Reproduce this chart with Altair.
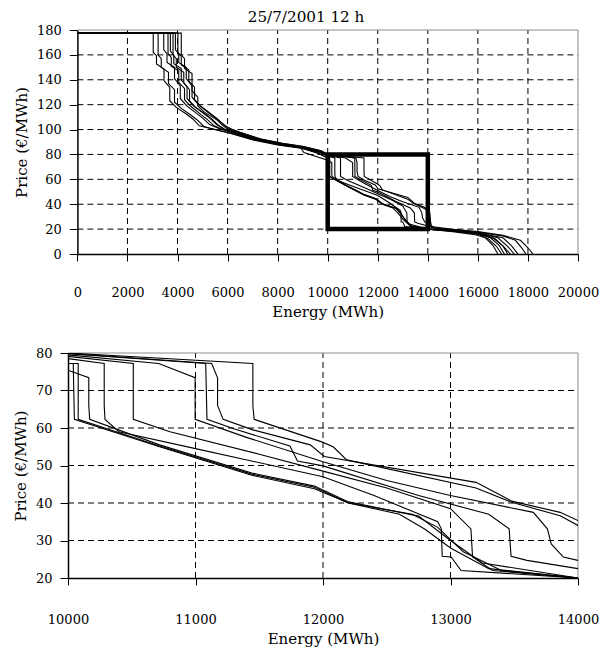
import altair as alt
import pandas as pd

title_text = "25/7/2001 12 h"
x_title = "Energy (MWh)"
y_title = "Price (€/MWh)"

top_x_ticks = [0, 2000, 4000, 6000, 8000, 10000, 12000, 14000, 16000, 18000, 20000]
top_y_ticks = [0, 20, 40, 60, 80, 100, 120, 140, 160, 180]
zoom_x_ticks = [10000, 11000, 12000, 13000, 14000]
zoom_y_ticks = [20, 30, 40, 50, 60, 70, 80]
box_energy = [10000, 14000]
box_price = [20, 80]

energy_1 = [0, 3030, 3030, 3160, 3160, 3460, 3460, 3690, 3690, 3950, 4350, 4610, 4870, 5500, 6050, 7000, 8000, 8900, 9600, 10000,
            10041, 10050, 10718, 11442, 11933, 12200, 12600, 12800, 13000, 13300, 14000, 15000, 16000, 16300, 16600, 16800]
price_1 = [177.5, 177.5, 162, 159.4, 152.7, 148.7, 139.3, 133.9, 123.2, 117.8, 112.5, 108.5, 103, 100, 97.5, 92, 88, 85.5, 81, 77.2,
           77.2, 62.3, 55, 47.4, 43.8, 40, 37, 33, 28, 22.5, 20, 18.5, 16, 13, 7, 0]

energy_2 = [0, 3225, 3225, 3350, 3350, 3640, 3640, 3880, 3880, 4150, 4540, 4800, 5050, 5600, 6100, 7050, 8050, 8950, 9650, 10000,
            10080, 10080, 10718, 11442, 11933, 12200, 12700, 12900, 13100, 13400, 14000, 15000, 16000, 16500, 16850, 17060]
price_2 = [177.5, 177.5, 160, 157, 150, 146, 137, 132, 122, 117, 111.5, 107.5, 102.5, 99.5, 97, 91.5, 87.5, 85, 81, 77.2,
           77.2, 62.3, 55.2, 47.7, 44.2, 40, 37, 33.5, 27, 22, 20, 18.3, 16.2, 13, 7, 0]

energy_3 = [0, 3450, 3450, 3580, 3580, 3880, 3880, 4110, 4110, 4370, 4760, 5020, 5280, 5700, 6150, 7100, 8000, 8900, 9050, 10000,
            10163, 10163, 10170, 10718, 11442, 11933, 12200, 12750, 13000, 13250, 14000, 15000, 15900, 16400, 16750, 16950]
price_3 = [177.5, 177.5, 164, 161, 154, 150, 141, 135, 125, 119, 113, 109, 104, 100.5, 98, 92.5, 88.5, 86, 81.5, 75.4,
           73.4, 66, 62.3, 55.5, 48, 44.5, 40.3, 36.5, 30, 24, 20, 18, 15.5, 12.5, 6, 0]

energy_4 = [0, 3620, 3620, 3750, 3750, 4050, 4050, 4280, 4280, 4540, 4940, 5200, 5460, 5800, 6200, 7100, 8050, 9000, 9700, 10000,
            10284, 10284, 10290, 10400, 11000, 12000, 12400, 12900, 12928, 12935, 13005, 13083, 14000, 15000, 16000, 16600, 17000, 17190]
price_4 = [177.5, 177.5, 161, 158, 151, 147, 138, 133, 124, 118.5, 112, 108, 103, 100, 97.5, 92, 88, 85, 81.5, 78.5,
           77.2, 66, 62.3, 59, 54.5, 47, 42, 35, 33.1, 25.8, 25.6, 22, 20, 18.7, 16.5, 13, 6.5, 0]

energy_5 = [0, 3715, 3715, 3850, 3850, 4150, 4150, 4380, 4380, 4640, 5040, 5300, 5560, 5850, 6250, 7150, 8100, 9000, 9700, 10000,
            10512, 10512, 10800, 11500, 12000, 12500, 13000, 13160, 13173, 13330, 14000, 15000, 16000, 16800, 17200, 17450]
price_5 = [177.5, 177.5, 163, 160, 153, 149, 140, 134.5, 125, 119, 113, 109, 104, 100.5, 98, 92.5, 88.5, 85.5, 82, 79.1,
           77.2, 62.3, 59, 53, 48.5, 44, 38.5, 33.1, 25.6, 22, 20, 18.8, 16.8, 13, 6, 0]

energy_6 = [0, 3820, 3820, 3950, 3950, 4250, 4250, 4480, 4480, 4740, 5140, 5400, 5660, 5900, 6300, 7200, 8100, 8900, 9600, 10000,
            10711, 10997, 10997, 11400, 12000, 12500, 13000, 13650, 13760, 13790, 13885, 14000, 14300, 15000, 16000, 17000, 17350, 17600]
price_6 = [177.5, 177.5, 160, 157, 150, 146, 137.5, 132, 123, 117.5, 112, 108, 103, 100, 97.5, 92, 88, 86, 82.5, 79.5,
           77.2, 73.4, 62.3, 57.5, 51, 46, 42, 37.5, 33.1, 29.1, 25.6, 24.7, 20.5, 19, 17, 13, 6.5, 0]

energy_7 = [0, 3915, 3915, 4050, 4050, 4350, 4350, 4580, 4580, 4840, 5240, 5500, 5760, 6000, 6350, 7250, 8150, 9000, 9700, 10000,
            11080, 11090, 11300, 11740, 11800, 12000, 12750, 13300, 13460, 13475, 13600, 14000, 14300, 15000, 16000, 17000, 17500, 17750, 17920]
price_7 = [177.5, 177.5, 164, 161, 154, 150, 141, 135, 126, 120, 113.5, 109.5, 104, 100.5, 98, 92.5, 88.5, 86, 82.5, 79.8,
           77.2, 62.3, 59.8, 55.2, 51.2, 49.9, 42, 37, 33.1, 25.8, 24.7, 22.5, 20.3, 19.2, 17.5, 14.5, 11, 5, 0]

energy_8 = [0, 4015, 4015, 4150, 4150, 4450, 4450, 4680, 4680, 4940, 5340, 5600, 5860, 6100, 6450, 7300, 8200, 9000, 9700, 10000,
            11127, 11173, 11173, 11217, 11450, 11900, 12010, 13200, 13480, 13860, 14000, 14080, 14120, 15000, 16000, 17000, 17700, 18000, 18200]
price_8 = [177.5, 177.5, 162, 159, 152, 148, 139, 134, 124, 118.5, 112.5, 108.5, 103.5, 100.5, 98, 92.5, 89, 86.5, 83, 79.9,
           77.2, 73.4, 66, 62.3, 59.5, 55.5, 52.4, 45.5, 40.5, 37.5, 35.3, 33, 22, 19.8, 18, 15, 11, 5, 0]

energy_9 = [0, 4150, 4150, 4280, 4280, 4580, 4580, 4810, 4810, 5070, 5470, 5730, 5990, 6200, 6550, 7350, 8250, 9100, 9750, 10000,
            11450, 11450, 11460, 11990, 12080, 12186, 13200, 13480, 13860, 14000, 14060, 14150, 15000, 16000, 16700, 17050, 17300]
price_9 = [177.5, 177.5, 160, 157, 149, 145, 131, 126, 119, 114, 109, 106, 102, 100, 97.5, 92, 88.5, 86, 83, 80,
           77.2, 66, 62.3, 56.3, 55, 51.5, 44, 40.2, 36.6, 34, 31, 21.5, 19, 16.5, 12, 5.5, 0]

curves = [(energy_1, price_1), (energy_2, price_2), (energy_3, price_3), (energy_4, price_4), (energy_5, price_5),
          (energy_6, price_6), (energy_7, price_7), (energy_8, price_8), (energy_9, price_9)]

rows = []
for ci, (es, ps) in enumerate(curves):
    for k, (e, p) in enumerate(zip(es, ps)):
        rows.append({"curve": ci + 1, "idx": k, "energy": e, "price": p})
df = pd.DataFrame(rows)

box_df = pd.DataFrame({"energy": [box_energy[0]], "energy2": [box_energy[1]],
                       "price": [box_price[0]], "price2": [box_price[1]]})

FONT = "DejaVu Serif"
GRID_DASH = [6, 4]
BORDER = "#8c8c8c"
LABEL_SIZE = 13

PANEL_W = 510
TOP_SHIFT = 9.4
TOP_H = 224
BOT_H = 225


def x_axis(values, label_pad, title_pad):
    return alt.Axis(values=values, title=x_title, grid=False, domainColor="black", domainWidth=1.5,
                    tickColor="black", tickSize=7, labelPadding=label_pad, labelFont=FONT, labelFontSize=LABEL_SIZE,
                    labelColor="black", labelFlush=False, labelOverlap=False, format="d", titleFont=FONT,
                    titleFontSize=15, titleFontWeight="normal", titleColor="black", titlePadding=title_pad)


def y_axis(values, offset=0):
    return alt.Axis(values=values, title=y_title, grid=False, domainColor="black", domainWidth=1.5,
                    tickColor="black", tickSize=8, labelPadding=8, labelFont=FONT, labelFontSize=LABEL_SIZE,
                    labelColor="black", labelFlush=False, labelOverlap=False, format="d", titleFont=FONT,
                    titleFontSize=15, titleFontWeight="normal", titleColor="black", titlePadding=7,
                    offset=offset)


def panel(x_ticks, y_ticks, x_scale, y_scale, x_ax, y_ax, with_box):
    xd0, xd1 = x_ticks[0], x_ticks[-1]
    yd0, yd1 = y_ticks[0], y_ticks[-1]

    def X(f):
        return alt.X(f, scale=x_scale, axis=x_ax)

    def Y(f):
        return alt.Y(f, scale=y_scale, axis=y_ax)

    vgrid = alt.Chart(pd.DataFrame({"energy": x_ticks[1:-1], "price": [yd0] * (len(x_ticks) - 2),
                                    "price2": [yd1] * (len(x_ticks) - 2)})).mark_rule(
        color="black", strokeWidth=1, strokeDash=GRID_DASH).encode(
        x=X("energy:Q"), y=Y("price:Q"), y2="price2")
    hgrid = alt.Chart(pd.DataFrame({"price": y_ticks[1:-1], "energy": [xd0] * (len(y_ticks) - 2),
                                    "energy2": [xd1] * (len(y_ticks) - 2)})).mark_rule(
        color="black", strokeWidth=1, strokeDash=GRID_DASH).encode(
        y=Y("price:Q"), x=X("energy:Q"), x2="energy2")
    top_border = alt.Chart(pd.DataFrame({"price": [yd1], "energy": [xd0], "energy2": [xd1]})).mark_rule(
        color=BORDER, strokeWidth=1).encode(y=Y("price:Q"), x=X("energy:Q"), x2="energy2")
    right_border = alt.Chart(pd.DataFrame({"energy": [xd1], "price": [yd0], "price2": [yd1]})).mark_rule(
        color=BORDER, strokeWidth=1).encode(x=X("energy:Q"), y=Y("price:Q"), y2="price2")
    lines = alt.Chart(df).mark_line(color="black", strokeWidth=1.1, clip=True).encode(
        x=X("energy:Q"), y=Y("price:Q"), detail="curve:N", order="idx:Q")
    layers = [vgrid, hgrid, top_border, right_border, lines]
    if with_box:
        box = alt.Chart(box_df).mark_rect(filled=False, stroke="black", strokeWidth=4.5).encode(
            x=X("energy:Q"), x2="energy2", y=Y("price:Q"), y2="price2")
        layers.append(box)
    return alt.layer(*layers)


top_xs = alt.Scale(domain=[top_x_ticks[0], top_x_ticks[-1]], nice=False, zero=False, range=[TOP_SHIFT, PANEL_W])
top_ys = alt.Scale(domain=[top_y_ticks[0], top_y_ticks[-1]], nice=False, zero=False)
top = panel(top_x_ticks, top_y_ticks, top_xs, top_ys, x_axis(top_x_ticks, 25, 5.5),
            y_axis(top_y_ticks, offset=-TOP_SHIFT), True).properties(width=PANEL_W, height=TOP_H)

bot_xs = alt.Scale(domain=[zoom_x_ticks[0], zoom_x_ticks[-1]], nice=False, zero=False)
bot_ys = alt.Scale(domain=[zoom_y_ticks[0], zoom_y_ticks[-1]], nice=False, zero=False)
bottom = panel(zoom_x_ticks, zoom_y_ticks, bot_xs, bot_ys, x_axis(zoom_x_ticks, 28, 5.5),
               y_axis(zoom_y_ticks), False).properties(width=PANEL_W, height=BOT_H)

chart = alt.vconcat(top, bottom, spacing=27).properties(
    title=alt.TitleParams(title_text, font=FONT, fontSize=15.2, fontWeight="normal", color="black",
                          anchor="middle", frame="bounds", offset=-1),
    padding={"left": 5, "top": 1, "right": 0, "bottom": 0}
).configure_view(strokeWidth=0).configure_axis(labelOverlap=False)

chart.save("out.html", embed_options={"renderer": "svg", "actions": False})
